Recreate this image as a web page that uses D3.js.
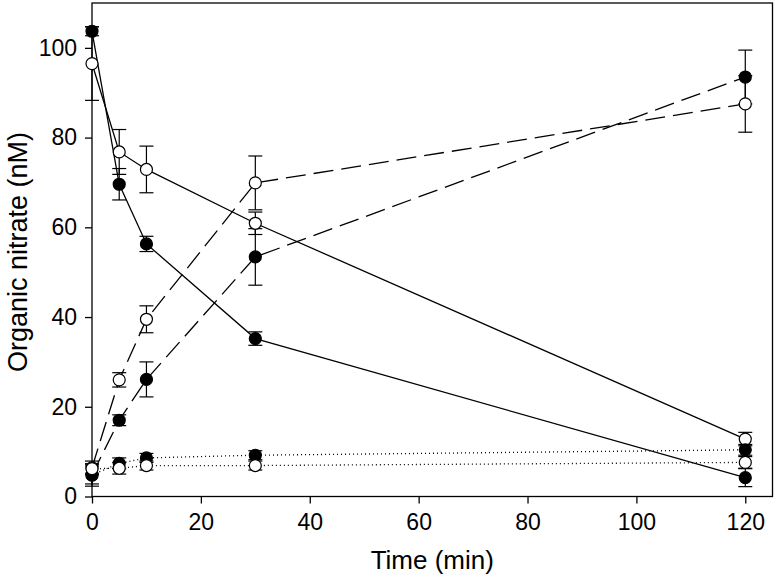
<!DOCTYPE html>
<html>
<head>
<meta charset="utf-8">
<script src="https://cdn.jsdelivr.net/npm/d3@7"></script>
<style>
    body { margin: 0; background: #fff; }
    svg text { font-family: "Liberation Sans", Arial, Helvetica, sans-serif; fill: #000; }
</style>
</head>
<body>
<div id="chart"></div>
<script>
// sampling times (min)
var times = [0, 5, 10, 30, 120];

// solid lines (decay)
var filledSolid = [103.7, 69.6, 56.3, 35.2, 4.2];
var filledSolidErr = [1.0, 3.5, 1.7, 1.5, 2.0];
var openSolid = [96.5, 76.8, 72.9, 60.9, 12.8];
var openSolidErr = [8.2, 5.0, 5.2, 2.5, 1.5];

// dashed lines (formation)
var filledDashed = [4.8, 17.0, 26.1, 53.4, 93.5];
var filledDashedErr = [2.5, 1.2, 3.9, 6.3, 6.0];
var openDashed = [6.4, 26.0, 39.5, 69.9, 87.5];
var openDashedErr = [1.5, 1.6, 3.0, 6.0, 6.3];

// dotted lines (control)
var filledDotted = [4.8, 7.4, 8.6, 9.2, 10.4];
var filledDottedErr = [2.0, 1.2, 1.0, 1.0, 1.2];
var openDotted = [6.2, 6.3, 6.9, 6.9, 7.6];
var openDottedErr = [1.0, 1.3, 1.0, 1.0, 1.3];

var xTicks = [0, 20, 40, 60, 80, 100, 120];
var yTicks = [0, 20, 40, 60, 80, 100];

var series = [
    {values: filledSolid, err: filledSolidErr, filled: true, dash: null},
    {values: openSolid, err: openSolidErr, filled: false, dash: null},
    {values: filledDashed, err: filledDashedErr, filled: true, dash: "20,8"},
    {values: openDashed, err: openDashedErr, filled: false, dash: "20,8"},
    {values: filledDotted, err: filledDottedErr, filled: true, dash: "1,3"},
    {values: openDotted, err: openDottedErr, filled: false, dash: "1,3"}
];

var width = 776,
    height = 575;

var x = d3.scaleLinear().domain([0, 125]).range([92, 772.5]);
var y = d3.scaleLinear().domain([0, 110]).range([496.5, 3]);

var svg = d3.select("#chart").append("svg")
    .attr("width", width)
    .attr("height", height);

// plot frame
svg.append("rect")
    .attr("x", x(0))
    .attr("y", y(110))
    .attr("width", x(125) - x(0))
    .attr("height", y(0) - y(110))
    .attr("fill", "none")
    .attr("stroke", "#000")
    .attr("stroke-width", 1.3);

var xAxis = svg.append("g")
    .attr("transform", "translate(0," + y(0) + ")")
    .call(d3.axisBottom(x).tickValues(xTicks).tickSize(7).tickSizeOuter(0).tickPadding(10));

var yAxis = svg.append("g")
    .attr("transform", "translate(" + x(0) + ",0)")
    .call(d3.axisLeft(y).tickValues(yTicks).tickSize(7).tickSizeOuter(0).tickPadding(8));

[xAxis, yAxis].forEach(function (a) {
    a.select(".domain").remove();
    a.selectAll("line").attr("stroke", "#000").attr("stroke-width", 1.3);
    a.selectAll("text").style("font-size", "23px").attr("fill", "#000");
});

svg.append("text")
    .attr("x", (x(0) + x(125)) / 2)
    .attr("y", 569)
    .attr("text-anchor", "middle")
    .style("font-size", "26px")
    .text("Time (min)");

svg.append("text")
    .attr("transform", "translate(27," + 252 + ")rotate(-90)")
    .attr("text-anchor", "middle")
    .style("font-size", "27px")
    .text("Organic nitrate (nM)");

var line = d3.line()
    .x(function (d, i) { return x(times[i]); })
    .y(function (d) { return y(d); });

// lines first
svg.append("g")
    .selectAll("path")
    .data(series)
    .enter().append("path")
    .attr("d", function (s) { return line(s.values); })
    .attr("fill", "none")
    .attr("stroke", "#000")
    .attr("stroke-width", 1.3)
    .attr("stroke-dasharray", function (s) { return s.dash; });

// error bars
series.forEach(function (s) {
    var g = svg.append("g").attr("stroke", "#000").attr("stroke-width", 1.2);
    s.values.forEach(function (v, i) {
        var cx = x(times[i]),
            lo = y(v - s.err[i]),
            hi = y(v + s.err[i]);
        g.append("line").attr("x1", cx).attr("x2", cx).attr("y1", lo).attr("y2", hi);
        g.append("line").attr("x1", cx - 7).attr("x2", cx + 7).attr("y1", lo).attr("y2", lo);
        g.append("line").attr("x1", cx - 7).attr("x2", cx + 7).attr("y1", hi).attr("y2", hi);
    });
});

// markers on top
series.forEach(function (s) {
    svg.append("g")
        .selectAll("circle")
        .data(s.values)
        .enter().append("circle")
        .attr("cx", function (d, i) { return x(times[i]); })
        .attr("cy", function (d) { return y(d); })
        .attr("r", 6)
        .attr("fill", s.filled ? "#000" : "#fff")
        .attr("stroke", "#000")
        .attr("stroke-width", 1.2);
});
</script>
</body>
</html>
